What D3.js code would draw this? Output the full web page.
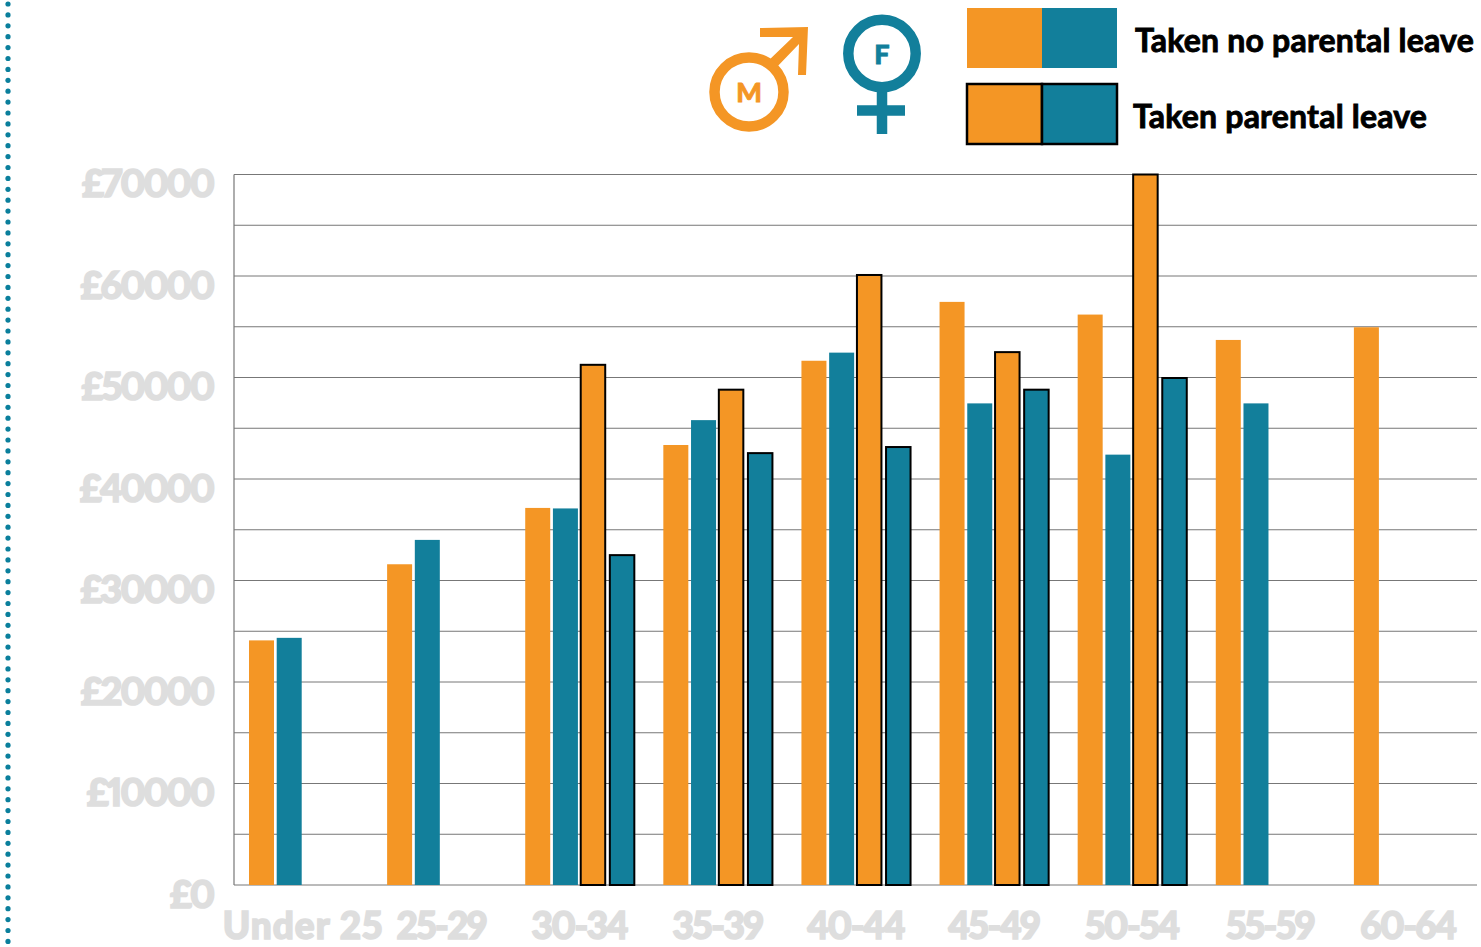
<!DOCTYPE html>
<html>
<head>
<meta charset="utf-8">
<script src="https://cdn.jsdelivr.net/npm/d3@7"></script>
<style>
  html, body { margin: 0; padding: 0; background: #fff; overflow: hidden; }
  text { font-family: Lato, "Open Sans", sans-serif; font-variant-numeric: proportional-nums; paint-order: stroke; }
</style>
</head>
<body>
<svg id="chart" width="1481" height="947"></svg>
<script>
const ageGroups = ["Under 25", "25-29", "30-34", "35-39", "40-44", "45-49", "50-54", "55-59", "60-64"];
const barKeys = ["maleNoLeave", "femaleNoLeave", "maleLeave", "femaleLeave"];
const maleNoLeave = [24100, 31600, 37150, 43350, 51650, 57450, 56200, 53700, 54950];
const femaleNoLeave = [24350, 34000, 37100, 45800, 52450, 47450, 42400, 47450, null];
const maleLeave = [null, null, 51250, 48800, 60100, 52500, 70000, null, null];
const femaleLeave = [null, null, 32500, 42550, 43150, 48800, 49950, null, null];
const yTicks = [0, 10000, 20000, 30000, 40000, 50000, 60000, 70000];
const gridTicks = d3.range(0, 70001, 5000);
const orange = "#f49625";
const teal = "#127f9b";
const labelGrey = "#dedede";

const svg = d3.select("#chart");
const plot = { left: 234, right: 1477, top: 174.5, bottom: 885 };

const x = d3.scaleBand().domain(ageGroups).range([plot.left, plot.right]);
const y = d3.scaleLinear().domain([0, 70000]).range([plot.bottom, plot.top]);
// offset of each bar inside its age group, outlined bars sit a bit wider apart
const slot = d3.scaleOrdinal().domain(barKeys).range([15, 42.7, 70.5, 99.6]);

// dotted rule on the far left
svg.append("g").selectAll("circle")
  .data(d3.range(0, 87))
  .enter()
  .append("circle")
  .attr("cx", 8)
  .attr("cy", (d) => 4 + d * 10.9)
  .attr("r", 2.6)
  .attr("fill", "#0a7f9c");

// grid lines
svg.append("g").selectAll("line")
  .data(gridTicks)
  .enter()
  .append("line")
  .attr("x1", plot.left)
  .attr("x2", plot.right)
  .attr("y1", (d) => y(d))
  .attr("y2", (d) => y(d))
  .attr("stroke", "#777")
  .attr("stroke-width", 1);

svg.append("line")
  .attr("x1", plot.left).attr("x2", plot.left)
  .attr("y1", plot.top).attr("y2", plot.bottom)
  .attr("stroke", "#777").attr("stroke-width", 1.2);

const series = [
  { key: "maleNoLeave", values: maleNoLeave, color: orange, outlined: false },
  { key: "femaleNoLeave", values: femaleNoLeave, color: teal, outlined: false },
  { key: "maleLeave", values: maleLeave, color: orange, outlined: true },
  { key: "femaleLeave", values: femaleLeave, color: teal, outlined: true },
];

series.forEach((s) => {
  svg.append("g").selectAll("rect")
    .data(ageGroups.map((g, i) => ({ group: g, value: s.values[i] })).filter((d) => d.value != null))
    .enter()
    .append("rect")
    .attr("x", (d) => x(d.group) + slot(s.key))
    .attr("y", (d) => y(d.value))
    .attr("width", s.outlined ? 24.5 : 25)
    .attr("height", (d) => y(0) - y(d.value))
    .attr("fill", s.color)
    .attr("stroke", s.outlined ? "#000" : "none")
    .attr("stroke-width", 2);
});

// axes
const yAxis = svg.append("g")
  .attr("transform", `translate(${plot.left},0)`)
  .call(d3.axisLeft(y).tickValues(yTicks).tickSize(0).tickPadding(21).tickFormat((d) => "£" + d));
yAxis.select(".domain").remove();
yAxis.selectAll("text")
  .attr("dy", "0.58em")
  .attr("fill", labelGrey)
  .attr("stroke", labelGrey)
  .attr("stroke-width", 1.6)
  .style("font-size", "38px")
  .style("font-weight", 900)
  .style("letter-spacing", "-2.2px");

const xAxis = svg.append("g")
  .attr("transform", `translate(0,${plot.bottom})`)
  .call(d3.axisBottom(x).tickSize(0).tickPadding(28));
xAxis.select(".domain").remove();
xAxis.selectAll("text")
  .attr("fill", labelGrey)
  .attr("stroke", labelGrey)
  .attr("stroke-width", 1.6)
  .style("font-size", "37px")
  .style("font-weight", 900)
  .style("letter-spacing", (d) => (d === "Under 25" ? "1px" : "-1.6px"));

// legend swatches
const swatches = [
  { yPos: 8, outlined: false, label: "Taken no parental leave", labelX: 1135, labelY: 52 },
  { yPos: 84, outlined: true, label: "Taken parental leave", labelX: 1133, labelY: 128 },
];
swatches.forEach((s) => {
  const g = svg.append("g");
  g.append("rect").attr("x", 967).attr("y", s.yPos).attr("width", 75).attr("height", 60)
    .attr("fill", orange).attr("stroke", s.outlined ? "#000" : "none").attr("stroke-width", 2.5);
  g.append("rect").attr("x", 1042).attr("y", s.yPos).attr("width", 75).attr("height", 60)
    .attr("fill", teal).attr("stroke", s.outlined ? "#000" : "none").attr("stroke-width", 2.5);
  g.append("text").attr("x", s.labelX).attr("y", s.labelY)
    .attr("fill", "#000").attr("stroke", "#000").attr("stroke-width", 0.9)
    .style("font-size", "32px").style("font-weight", 700).style("letter-spacing", "0.2px")
    .text(s.label);
});

// male symbol
const male = svg.append("g");
male.append("path")
  .attr("d", "M760 28 L808 27 L806 75 L798 75 L799 44 L774 70 L767 62 L793 37 L760 37 Z")
  .attr("fill", orange);
male.append("circle").attr("cx", 749).attr("cy", 92).attr("r", 34.5)
  .attr("fill", "#fff").attr("stroke", orange).attr("stroke-width", 10.5);
male.append("text").attr("x", 749).attr("y", 102).attr("text-anchor", "middle")
  .attr("fill", orange).attr("stroke", orange).attr("stroke-width", 0.8)
  .style("font-size", "27px").style("font-weight", 900).text("M");

// female symbol
const female = svg.append("g");
female.append("path").attr("d", "M882 88 V134 M857 110.5 H905").attr("stroke", teal).attr("stroke-width", 10.5).attr("fill", "none");
female.append("circle").attr("cx", 882).attr("cy", 53.5).attr("r", 33.7)
  .attr("fill", "#fff").attr("stroke", teal).attr("stroke-width", 10.5);
female.append("text").attr("x", 882).attr("y", 64).attr("text-anchor", "middle")
  .attr("fill", teal).attr("stroke", teal).attr("stroke-width", 0.8)
  .style("font-size", "27px").style("font-weight", 900).text("F");
</script>
</body>
</html>
